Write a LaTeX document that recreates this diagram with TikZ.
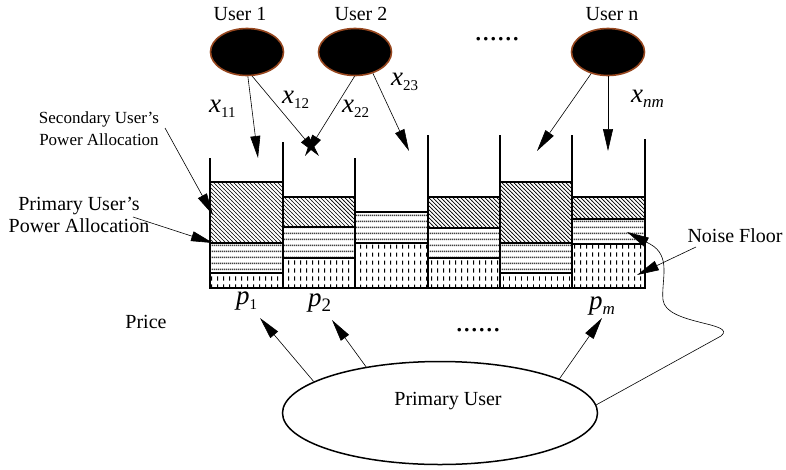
\documentclass[tikz,border=0pt]{standalone}
\usepackage{fontspec}
\setmainfont{Liberation Serif}
\usetikzlibrary{arrows.meta,shapes.geometric,patterns}

\definecolor{ubrown}{RGB}{150,70,30}

\pgfdeclarepatternformonly{sechatch}{\pgfqpoint{-1pt}{-1pt}}{\pgfqpoint{5pt}{5pt}}{\pgfqpoint{4pt}{4pt}}{%
  \pgfsetlinewidth{0.7pt}%
  \pgfpathmoveto{\pgfqpoint{-0.1pt}{4.1pt}}%
  \pgfpathlineto{\pgfqpoint{4.1pt}{-0.1pt}}%
  \pgfusepath{stroke}}
\pgfdeclarepatternformonly{primlines}{\pgfqpoint{0pt}{0pt}}{\pgfqpoint{2pt}{6pt}}{\pgfqpoint{2pt}{6pt}}{%
  \pgfsetlinewidth{1.8pt}%
  \pgfpathmoveto{\pgfqpoint{-0.1pt}{3pt}}%
  \pgfpathlineto{\pgfqpoint{2.1pt}{3pt}}%
  \pgfusepath{stroke}}
\pgfdeclarepatternformonly{noisedash}{\pgfqpoint{0pt}{0pt}}{\pgfqpoint{5.5pt}{7.5pt}}{\pgfqpoint{5.5pt}{7.5pt}}{%
  \pgfsetlinewidth{1pt}%
  \pgfpathmoveto{\pgfqpoint{2.75pt}{1.5pt}}%
  \pgfpathlineto{\pgfqpoint{2.75pt}{5.8pt}}%
  \pgfusepath{stroke}}

\newcommand\varlab[3][15]{{\fontsize{27}{27}\selectfont\itshape #2}\raisebox{-5pt}{\fontsize{#1}{#1}\selectfont #3}}
\newcommand\drawchan[5]{%
  \draw[chanline,pattern=noisedash] (#1,#5) rectangle (#2,288);
  \draw[chanline,pattern=primlines,pattern color=black!75] (#1,#4) rectangle (#2,#5);
  \draw[chanline,pattern=sechatch] (#1,#3) rectangle (#2,#4);
}

\begin{document}
\begin{tikzpicture}[x=1pt,y=-1pt,
  user/.style={ellipse,fill=black,draw=ubrown,line width=1.6pt,minimum width=73pt,minimum height=47pt,inner sep=0pt},
  lbl/.style={font=\fontsize{20}{22}\selectfont,inner sep=0pt},
  arr/.style={line width=0.6pt,-{Triangle[length=22pt,width=10pt]}},
  chanline/.style={line width=2pt},
  dots/.style={font=\fontsize{30}{30}\selectfont,inner sep=0pt}]

\path[fill=white,use as bounding box] (0,0) rectangle (786,469);

% channels
\drawchan{210}{283}{182}{243}{273}
\drawchan{283}{355}{197}{227}{258}
\draw[chanline,pattern=noisedash] (355,243) rectangle (428,288);
\draw[chanline,pattern=primlines,pattern color=black!75] (355,212) rectangle (428,243);
\drawchan{428}{500}{197}{228}{258}
\drawchan{500}{572}{182}{243}{273}
\drawchan{572}{645}{197}{219}{244}

% walls
\draw[chanline] (210,158) -- (210,288);
\draw[chanline] (283,142) -- (283,288);
\draw[chanline] (355,158) -- (355,288);
\draw[chanline] (428,135) -- (428,288);
\draw[chanline] (500,135) -- (500,288);
\draw[chanline] (572,135) -- (572,288);
\draw[chanline] (645,139) -- (645,288);
\draw[chanline] (210,288) -- (645,288);

% users
\node[user] (u1) at (247,52) {};
\node[user] (u2) at (355,52) {};
\node[user] (un) at (608,52) {};
\node[lbl,anchor=base] (t1) at (240,20) {User 1};
\node[lbl,anchor=base] (t2) at (361,20) {User 2};
\node[lbl,anchor=base] (tn) at (612,20) {User n};
\node[dots,anchor=base] (d1) at (497,40) {......};

% user arrows
\coordinate (a11) at (258,158);
\coordinate (a12) at (319,156);
\coordinate (a22) at (305,156);
\coordinate (a23) at (409,151);
\coordinate (an1) at (537,151);
\coordinate (anm) at (608,151);
\draw[arr] (u1.-88) -- (a11);
\draw[arr] (u1.-78) -- (a12);
\draw[arr] (u2.-91) -- (a22);
\draw[arr] (u2.-50) -- (a23);
\draw[arr] (un.-128) -- (an1);
\draw[arr] (un.south) -- (anm);

\node[anchor=base west,inner sep=0pt] (x11) at (209,112) {\varlab{x}{11}};
\node[anchor=base west,inner sep=0pt] (x12) at (282,103) {\varlab{x}{12}};
\node[anchor=base west,inner sep=0pt] (x22) at (342,112) {\varlab{x}{22}};
\node[anchor=base west,inner sep=0pt] (x23) at (391,85) {\varlab{x}{23}};
\node[anchor=base west,inner sep=0pt] (xnm) at (631,102) {\varlab[17]{x}{\itshape nm}};

% left labels
\node[align=center,inner sep=0pt,font=\fontsize{17}{22}\selectfont] (seclab) at (99,129) {Secondary User's\\Power Allocation};
\node[align=center,inner sep=0pt,font=\fontsize{20}{22}\selectfont] (primlab) at (79,215) {Primary User's\\Power Allocation};
\coordinate (secs) at (165,128);
\coordinate (sect) at (213,215);
\coordinate (prims) at (133,217);
\coordinate (primt) at (213,243);
\draw[arr] (secs) -- (sect);
\draw[arr] (prims) -- (primt);

% noise floor
\node[lbl,anchor=base] (nf) at (735,242) {Noise Floor};
\coordinate (nfs) at (696,247);
\coordinate (nft) at (637,275);
\draw[arr] (nfs) -- (nft);

% prices
\node[anchor=base west,inner sep=0pt] (p1) at (236,304) {\varlab[15]{p}{1}};
\node[anchor=base west,inner sep=0pt] (p2) at (308,306) {\varlab[19]{p}{2}};
\node[anchor=base west,inner sep=0pt] (pm) at (589,309) {\varlab[17]{p}{\itshape m}};
\node[lbl,anchor=base] (price) at (146,328) {Price};
\node[dots,anchor=base] (d2) at (478,331) {......};

% primary user
\node[ellipse,draw,line width=1.5pt,minimum width=315pt,minimum height=103pt,inner sep=0pt] (pu) at (440,413) {};
\node[lbl,anchor=base] (putxt) at (448,405) {Primary User};
\coordinate (pr1) at (260,318);
\coordinate (pr2) at (332,320);
\coordinate (prm) at (602,318);
\draw[arr] (pu.166) -- (pr1);
\draw[arr] (pu.148) -- (pr2);
\draw[arr] (pu.16) -- (prm);

% feedback curve
\coordinate (fbt) at (627,232);
\draw[arr] (pu.3) -- (721,336) .. controls (738,322) and (666,325) .. (663,300) .. controls (661,280) and (672,256) .. (650,244) -- (fbt);
\end{tikzpicture}
\end{document}
